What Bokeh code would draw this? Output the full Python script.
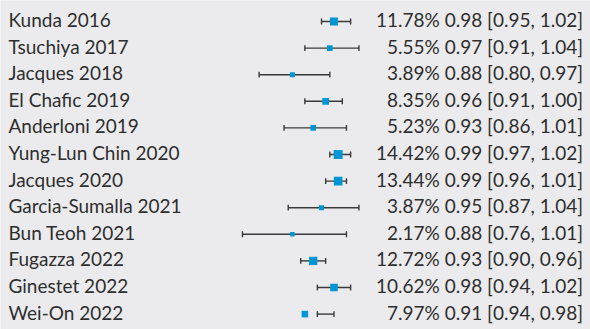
from bokeh.plotting import figure
from bokeh.models import ColumnDataSource, Range1d
from bokeh.embed import file_html
from bokeh.resources import INLINE
from bokeh.core.properties import value

# Study-level results (risk ratio with 95% CI and weight)
studies = ["Kunda 2016", "Tsuchiya 2017", "Jacques 2018", "El Chafic 2019",
           "Anderloni 2019", "Yung-Lun Chin 2020", "Jacques 2020",
           "Garcia-Sumalla 2021", "Bun Teoh 2021", "Fugazza 2022",
           "Ginestet 2022", "Wei-On 2022"]
weights = [11.78, 5.55, 3.89, 8.35, 5.23, 14.42, 13.44, 3.87, 2.17, 12.72, 10.62, 7.97]
estimates = [0.98, 0.97, 0.88, 0.96, 0.93, 0.99, 0.99, 0.95, 0.88, 0.93, 0.98, 0.91]
ci_low = [0.95, 0.91, 0.80, 0.91, 0.86, 0.97, 0.96, 0.87, 0.76, 0.90, 0.94, 0.94]
ci_high = [1.02, 1.04, 0.97, 1.00, 1.01, 1.02, 1.01, 1.04, 1.01, 0.96, 1.02, 0.98]

rows = list(range(len(studies)))
labels = [f"{w:.2f}% {e:.2f} [{lo:.2f}, {hi:.2f}]"
          for w, e, lo, hi in zip(weights, estimates, ci_low, ci_high)]
marker_sizes = [3.6 + 0.37 * w for w in weights]

cap = 0.11
src = ColumnDataSource(dict(
    row=rows, study=studies, est=estimates, lo=ci_low, hi=ci_high,
    label=labels, size=marker_sizes,
    cap_top=[r - cap for r in rows], cap_bot=[r + cap for r in rows],
))

BG = "#ebebed"
INK = "#2e2e2e"
BLUE = "#0096d6"

p = figure(width=590, height=329, output_backend="svg", toolbar_location=None,
           x_range=Range1d(0.1784, 1.5966), y_range=Range1d(11.579, -0.789),
           x_axis_location=None, y_axis_location=None,
           min_border=0, background_fill_color=BG, border_fill_color=BG)
p.grid.visible = False
p.outline_line_color = None

# confidence interval whiskers with end caps
p.segment(x0="lo", x1="hi", y0="row", y1="row", source=src,
          line_color="#3a3a3a", line_width=1.4)
p.segment(x0="lo", x1="lo", y0="cap_top", y1="cap_bot",
          source=src, line_color="#3a3a3a", line_width=1.4)
p.segment(x0="hi", x1="hi", y0="cap_top", y1="cap_bot",
          source=src, line_color="#3a3a3a", line_width=1.4)

# point estimates, sized by study weight
p.scatter(x="est", y="row", size="size", marker="square", source=src,
          fill_color=BLUE, line_color=None)

# study names on the left
p.text(x=0.1976, y="row", text="study", source=src, text_font=value("Lato"),
       text_font_size="19px", text_color=INK, text_baseline="middle",
       text_align="left", y_offset=-2)

# weight, estimate and CI on the right
p.text(x=1.5786, y="row", text="label", source=src, text_font=value("Lato"),
       text_font_size="19px", text_color=INK, text_baseline="middle",
       text_align="right", y_offset=-2)

open("out.html", "w").write(file_html(p, INLINE))
